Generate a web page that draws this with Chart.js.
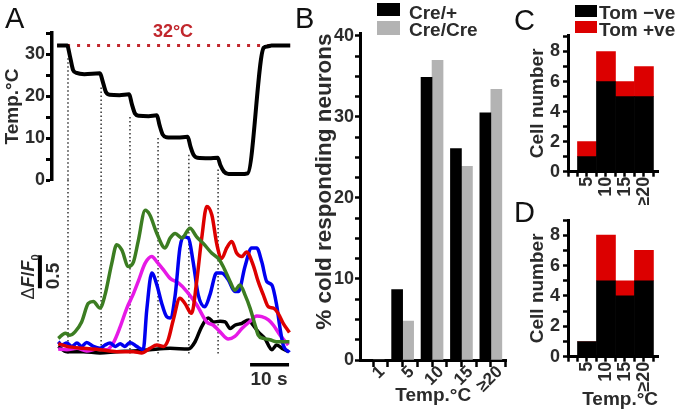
<!DOCTYPE html>
<html>
<head>
<meta charset="utf-8">
<title>Cold responding neurons</title>
<script src="https://cdn.jsdelivr.net/npm/chart.js@4.4.1/dist/chart.umd.min.js"></script>
<style>
  body { margin: 0; background: #fff; }
  #fig { position: relative; width: 677px; height: 417px; overflow: hidden; font-family: "Liberation Sans", Arial, sans-serif; }
  #fig canvas { position: absolute; }
  .txt { position: absolute; font-weight: bold; font-size: 19px; line-height: 1; color: #2b2b2b; white-space: nowrap; transform: translate(-50%, -50%); }
  .rot { transform: translate(-50%, -50%) rotate(-90deg); }
  .letter { position: absolute; font-size: 29px; line-height: 1; color: #111; }
  .key { position: absolute; }
  .keytxt { position: absolute; font-weight: bold; font-size: 19px; line-height: 1; color: #2b2b2b; white-space: nowrap; }
</style>
</head>
<body>
<div id="fig">
  <canvas id="chartA" width="300" height="417" style="left:0;top:0"></canvas>
  <canvas id="chartB" width="215" height="417" style="left:300px;top:0"></canvas>
  <canvas id="chartC" width="167" height="205" style="left:510px;top:0"></canvas>
  <canvas id="chartD" width="167" height="217" style="left:510px;top:200px"></canvas>

  <div class="letter" style="left:5px;top:4px">A</div>
  <div class="letter" style="left:295px;top:4px">B</div>
  <div class="letter" style="left:514px;top:6px">C</div>
  <div class="letter" style="left:514px;top:198px">D</div>

  <div class="txt" style="left:173px;top:31px;color:#c1272d;font-size:18px">32°C</div>
  <div class="txt rot" style="left:30px;top:277px;font-size:18px"><span style="font-weight:normal">Δ</span><i>F</i>/<i>F</i><sub style="font-size:11px">0</sub></div>
  <div class="txt rot" style="left:52px;top:276px">0.5</div>
  <div class="txt" style="left:269px;top:378px">10 s</div>
  <div id="keys"></div>
</div>
<script>
// ---- panel A: temperature steps (s, °C)
const tempTime = [0, 2.6, 3.3, 4.1, 5.0, 7, 11, 11.7, 12.5, 13.5, 16, 18.5, 19.2, 20, 21, 23.5, 25.6, 26.3, 27.1, 28, 31, 33.5, 34.2, 35, 36, 39, 41.2, 41.9, 42.8, 44, 47, 48.9, 53.0, 54, 55, 59.8];
const tempValue = [32, 32, 29.5, 26.2, 25.5, 25.2, 25.4, 23.5, 21, 20.3, 20.2, 20.4, 18, 15.8, 15.3, 15.2, 15.4, 13, 10.8, 10.2, 10.1, 10.3, 8, 6, 5.3, 5.2, 5.3, 3.5, 2.0, 1.4, 1.4, 1.6, 31.5, 31.8, 32, 32];
const baseTemp = 32;
const stepTimes = [2.8, 11.3, 18.7, 25.9, 33.8, 41.3];
const stepTops = [29, 22, 15, 10, 6, 2.5];

// ---- panel A: ΔF/F0 traces
const greenT = [0.3, 2.1, 3.3, 4.6, 6.3, 8.0, 9.3, 11.0, 12.3, 14.0, 15.3, 16.6, 18.3, 19.6, 20.8, 22.6, 23.8, 25.6, 27.7, 29.0, 30.3, 32.0, 34.1, 35.8, 37.5, 39.7, 41.4, 42.6, 44.4, 45.6, 46.9, 48.2, 49.5, 50.8, 51.6, 52.9, 54.6, 56.3, 59.6];
const greenV = [0.19, 0.27, 0.24, 0.29, 0.44, 0.72, 0.75, 0.65, 0.85, 1.32, 1.61, 1.53, 1.28, 1.35, 1.66, 2.13, 2.06, 1.78, 1.56, 1.71, 1.78, 1.71, 1.86, 1.73, 1.63, 1.48, 1.40, 1.28, 1.05, 0.92, 1.00, 0.85, 0.65, 0.39, 0.24, 0.19, 0.17, 0.14, 0.14];
const redT = [0.3, 2.5, 6.7, 11.0, 15.3, 19.6, 21.7, 23.8, 25.6, 27.3, 28.5, 29.8, 31.5, 32.8, 34.5, 35.8, 37.1, 38.4, 39.7, 41.0, 42.2, 43.5, 44.8, 46.1, 47.4, 48.6, 50.3, 51.6, 52.9, 54.2, 55.5, 56.7, 58.0, 59.6];
const redV = [0.11, 0.07, 0.04, 0.02, -0.01, -0.01, -0.03, 0.04, 0.09, 0.07, 0.17, 0.47, 0.80, 0.72, 0.57, 1.05, 1.71, 2.19, 2.06, 1.61, 1.40, 1.56, 1.66, 1.48, 1.43, 1.50, 1.30, 1.05, 0.85, 0.67, 0.65, 0.57, 0.42, 0.28];
const blueT = [0.3, 1.2, 2.5, 3.8, 5.1, 6.3, 7.6, 9.3, 11.0, 12.3, 13.6, 14.9, 16.2, 17.4, 18.7, 20.4, 22.1, 23.0, 24.3, 25.6, 26.8, 28.1, 29.0, 30.3, 31.5, 32.4, 33.7, 34.9, 36.2, 37.9, 39.2, 40.9, 42.2, 43.9, 45.6, 46.5, 48.2, 49.9, 51.2, 52.5, 53.8, 55.1, 56.3, 57.2, 58.0, 59.6];
const blueV = [0.14, 0.09, 0.12, 0.07, 0.12, 0.07, 0.13, 0.07, 0.04, 0.09, 0.12, 0.07, 0.11, 0.07, 0.13, 0.07, 0.02, 0.62, 1.18, 1.00, 0.73, 0.52, 0.50, 0.85, 1.56, 1.73, 1.71, 1.35, 0.85, 0.67, 0.85, 1.18, 1.18, 1.08, 0.90, 0.90, 1.28, 1.56, 1.56, 1.35, 1.05, 1.00, 0.70, 0.34, 0.09, -0.02];
const magentaT = [0.3, 2.5, 5.1, 7.6, 10.2, 12.7, 14.4, 16.2, 17.9, 19.6, 20.8, 22.6, 24.3, 25.6, 27.3, 29.0, 31.1, 33.3, 35.8, 38.4, 40.1, 41.8, 43.9, 45.6, 47.4, 49.5, 51.2, 52.5, 54.2, 55.5, 57.2, 59.3];
const magentaV = [0.03, 0.02, 0.04, 0.00, 0.03, 0.02, 0.12, 0.37, 0.65, 0.87, 1.05, 1.33, 1.43, 1.35, 1.23, 1.10, 1.03, 0.90, 0.70, 0.44, 0.39, 0.29, 0.18, 0.22, 0.34, 0.45, 0.53, 0.52, 0.47, 0.39, 0.24, 0.09];
const blackT = [0.3, 2.5, 6.7, 11.0, 15.3, 19.6, 23.8, 29.0, 33.7, 35.4, 37.1, 38.8, 40.1, 41.8, 43.1, 44.4, 45.6, 47.4, 49.1, 50.3, 51.6, 53.3, 55.1, 56.3, 58.0, 59.3];
const blackV = [0.07, -0.01, -0.01, -0.03, -0.01, 0.00, 0.02, 0.04, 0.03, 0.14, 0.37, 0.50, 0.44, 0.45, 0.44, 0.34, 0.39, 0.42, 0.47, 0.39, 0.29, 0.19, 0.02, 0.09, 0.03, -0.01];
const scaleBarDF = 0.5;   // vertical bar, ΔF/F0
const scaleBarSec = 10;   // horizontal bar, s

// ---- panel B
const bCats = ['1', '5', '10', '15', '≥20'];
const bSeries = ['Cre/+', 'Cre/Cre'];
const bCreHet = [0, 8.7, 34.9, 26.1, 30.5];
const bCreHom = [0, 4.8, 37.0, 23.9, 33.4];

// ---- panels C and D
const cdCats = ['5', '10', '15', '≥20'];
const cdSeries = ['Tom −ve', 'Tom +ve'];
const cTomNeg = [1, 6, 5, 5];
const cTomPos = [1, 2, 1, 2];
const dTomNeg = [1, 5, 4, 5];
const dTomPos = [0, 3, 1, 2];

const FONT = "'Liberation Sans', Arial, sans-serif";
const TXT = '#2b2b2b';
const tickFont = { family: FONT, weight: 'bold', size: 18 };
const titleFont = { family: FONT, weight: 'bold', size: 19 };
Chart.defaults.font.family = FONT;
Chart.defaults.color = TXT;

const pts = (ts, vs) => ts.map((t, i) => ({ x: t, y: vs[i] }));
const dfMin = -0.515, dfMax = 2.59;

function trace(ts, vs, color) {
  return {
    yAxisID: 'yF', data: pts(ts, vs), borderColor: color, borderWidth: 3.5,
    pointRadius: 0, cubicInterpolationMode: 'monotone', borderJoinStyle: 'round'
  };
}

const dotsTop = [], dotsBottom = [];
stepTimes.forEach((t, i) => {
  dotsTop.push({ x: t, y: stepTops[i] }, { x: t, y: 0 }, { x: t, y: null });
  dotsBottom.push({ x: t, y: dfMax }, { x: t, y: -0.05 }, { x: t, y: null });
});
const dotted = { borderColor: '#333', borderWidth: 1.5, borderDash: [1.5, 2.5], pointRadius: 0, spanGaps: false };

new Chart(document.getElementById('chartA'), {
  type: 'line',
  data: {
    datasets: [
      { yAxisID: 'yT', data: pts(tempTime, tempValue), borderColor: '#000', borderWidth: 4, pointRadius: 0, cubicInterpolationMode: 'monotone' },
      { yAxisID: 'yT', data: [{ x: 0, y: baseTemp }, { x: 59.8, y: baseTemp }], borderColor: '#c1272d', borderWidth: 3, borderDash: [3, 7], pointRadius: 0 },
      trace(greenT, greenV, '#3c7d22'),
      trace(redT, redV, '#dd0000'),
      trace(blueT, blueV, '#0000f0'),
      trace(magentaT, magentaV, '#e619e6'),
      trace(blackT, blackV, '#000'),
      { yAxisID: 'yF', data: [{ x: -4.4, y: 0.95 }, { x: -4.4, y: 0.95 + scaleBarDF }], borderColor: '#000', borderWidth: 4, pointRadius: 0, clip: false },
      { yAxisID: 'yF', data: [{ x: 59.5 - scaleBarSec, y: -0.21 }, { x: 59.5, y: -0.21 }], borderColor: '#000', borderWidth: 3.5, pointRadius: 0, clip: false },
      Object.assign({ yAxisID: 'yT', data: dotsTop }, dotted),
      Object.assign({ yAxisID: 'yF', data: dotsBottom }, dotted)
    ]
  },
  options: {
    responsive: false, animation: false,
    layout: { padding: { left: 0, right: 9, top: 33, bottom: 32 } },
    plugins: { legend: { display: false }, tooltip: { enabled: false } },
    scales: {
      x: { type: 'linear', min: -1.3, max: 60, display: false },
      yT: {
        type: 'linear', position: 'left', stack: 'A', stackWeight: 147, weight: 2,
        min: 0, max: 35,
        border: { color: '#000', width: 3.5 },
        grid: { drawOnChartArea: false, tickLength: 6, tickWidth: 3, tickColor: '#000' },
        ticks: { stepSize: 5, padding: 1, font: tickFont, color: TXT, autoSkip: false, callback: v => (v % 10 === 0 ? v : '') },
        title: { display: true, text: 'Temp.°C', font: titleFont, color: TXT, padding: { top: 1, bottom: 0 } },
        afterFit: s => { s.width = 52; }
      },
      yF: {
        type: 'linear', position: 'left', stack: 'A', stackWeight: 205, weight: 1,
        min: dfMin, max: dfMax,
        border: { display: false }, grid: { display: false }, ticks: { display: false }
      }
    }
  }
});

// ---- panel B
new Chart(document.getElementById('chartB'), {
  type: 'bar',
  data: {
    datasets: [
      { label: bSeries[0], data: pts([1, 2, 3, 4, 5], bCreHet), backgroundColor: '#000', barThickness: 11 },
      { label: bSeries[1], data: pts([1, 2, 3, 4, 5], bCreHom), backgroundColor: '#b3b3b3', barThickness: 11 }
    ]
  },
  options: {
    responsive: false, animation: false,
    layout: { padding: { left: 0, right: 5, top: 33.5, bottom: 5 } },
    plugins: { legend: { display: false }, tooltip: { enabled: false } },
    scales: {
      x: {
        type: 'linear', min: 0.55, max: 5.53, offset: false,
        border: { color: '#000', width: 3 },
        grid: { offset: false, drawOnChartArea: false, tickLength: 7, tickWidth: 2.5, tickColor: '#000' },
        ticks: {
          stepSize: 0.5, includeBounds: false, autoSkip: false, minRotation: 45, maxRotation: 45,
          padding: -5, labelOffset: 9,
          font: { family: FONT, weight: 'bold', size: 17 }, color: TXT,
          callback: v => (Number.isInteger(v) && v >= 1 && v <= bCats.length ? bCats[v - 1] : '')
        },
        title: { display: true, text: 'Temp.°C', font: titleFont, color: TXT, padding: { top: 0, bottom: 5 } },
        afterFit: s => { s.height = 52; }
      },
      y: {
        min: 0, max: 40.3,
        border: { color: '#000', width: 3 },
        grid: { drawOnChartArea: false, tickLength: 5, tickWidth: 2.5, tickColor: '#000' },
        ticks: { stepSize: 2.5, includeBounds: false, autoSkip: false, padding: 1, font: tickFont, color: TXT, callback: v => (v % 10 === 0 ? v : '') },
        title: { display: true, text: '% cold responding neurons', align: 'end', font: { family: FONT, weight: 'bold', size: 22.5 }, color: TXT, padding: { top: 11.5, bottom: 0 } },
        afterFit: s => { s.width = 60; }
      }
    }
  }
});

// ---- panels C and D
function stackedCells(id, neg, pos, opts) {
  return new Chart(document.getElementById(id), {
    type: 'bar',
    data: {
      datasets: [
        { label: cdSeries[0], data: pts([1, 2, 3, 4], neg), backgroundColor: '#000', barThickness: 19 },
        { label: cdSeries[1], data: pts([1, 2, 3, 4], pos), backgroundColor: '#dc0000', barThickness: 19 }
      ]
    },
    options: {
      responsive: false, animation: false,
      layout: { padding: { left: 0, right: 19, top: opts.top, bottom: 0 } },
      plugins: { legend: { display: false }, tooltip: { enabled: false } },
      scales: {
        x: {
          type: 'linear', stacked: true, min: 0, max: 4.74, offset: false,
          border: { color: '#000', width: 3 },
          grid: { offset: false, drawOnChartArea: false, tickLength: 5, tickWidth: 2.5, tickColor: '#000' },
          ticks: {
            stepSize: 0.5, includeBounds: false, autoSkip: false, minRotation: 90, maxRotation: 90, padding: 0,
            font: tickFont, color: TXT,
            callback: v => (Number.isInteger(v) && v >= 1 && v <= cdCats.length ? cdCats[v - 1] : '')
          },
          title: { display: opts.xTitle, text: 'Temp.°C', align: 'end', font: titleFont, color: TXT, padding: { top: 0, bottom: 6 } },
          afterFit: s => { s.height = opts.xHeight; }
        },
        y: {
          stacked: true, min: 0, max: opts.max,
          border: { color: '#000', width: 3 },
          grid: { drawOnChartArea: false, tickLength: 5, tickWidth: 2.5, tickColor: '#000' },
          ticks: { stepSize: 1, includeBounds: false, autoSkip: false, padding: 3, font: tickFont, color: TXT, callback: v => (v % 2 === 0 ? v : '') },
          title: { display: true, text: 'Cell number', font: titleFont, color: TXT, padding: { top: 16.6, bottom: 0 } },
          afterFit: s => { s.width = 58; }
        }
      }
    }
  });
}
stackedCells('chartC', cTomNeg, cTomPos, { top: 35, max: 9.1, xHeight: 33.3, xTitle: false });
stackedCells('chartD', dTomNeg, dTomPos, { top: 20, max: 9.0, xHeight: 60.3, xTitle: true });

// ---- legends for B and C
const keys = document.getElementById('keys');
function addKey(x, y, w, h, color, text, tx, ty) {
  const box = document.createElement('div');
  box.className = 'key';
  box.style.cssText = `left:${x}px;top:${y}px;width:${w}px;height:${h}px;background:${color}`;
  keys.appendChild(box);
  const label = document.createElement('div');
  label.className = 'keytxt';
  label.style.cssText = `left:${tx}px;top:${ty}px`;
  label.textContent = text;
  keys.appendChild(label);
}
addKey(377, 3, 23, 13, '#000', bSeries[0], 409, 2.5);
addKey(377, 21, 23, 14, '#b3b3b3', bSeries[1], 409, 19.5);
addKey(575, 5, 22, 12, '#000', cdSeries[0], 599, 2.5);
addKey(575, 21, 22, 12, '#dc0000', cdSeries[1], 599, 19.5);
</script>
</body>
</html>
